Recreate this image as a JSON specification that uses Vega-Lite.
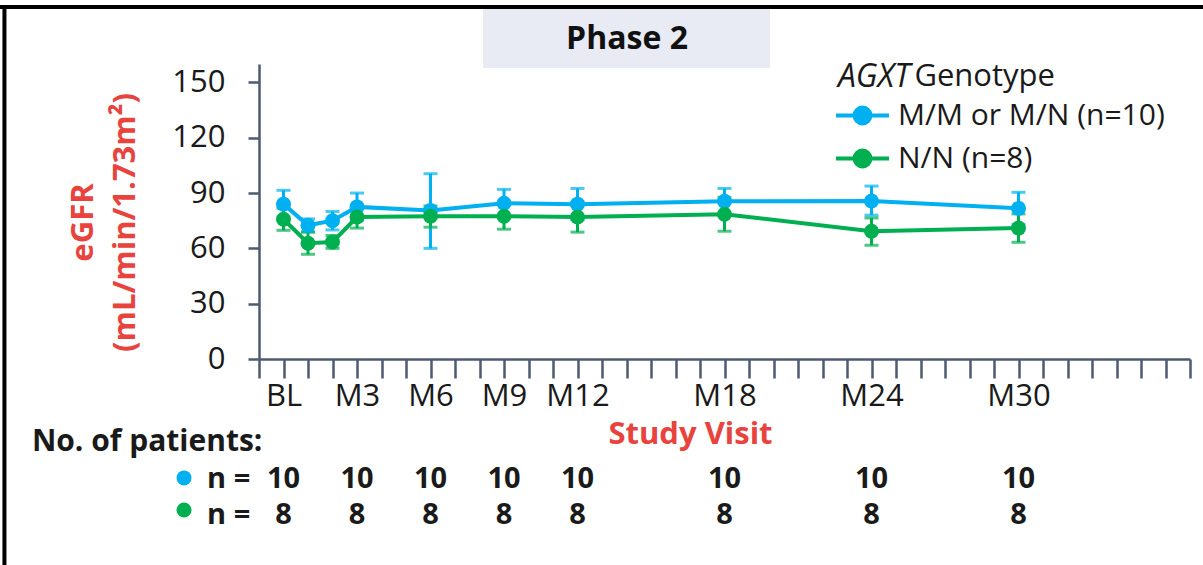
{
  "$schema": "https://vega.github.io/schema/vega-lite/v6.json",
  "width": 931,
  "height": 295,
  "autosize": {"type": "none"},
  "padding": {"left": 259, "top": 64, "right": 13, "bottom": 206},
  "background": "white",
  "config": {
    "view": {"stroke": null},
    "font": "Open Sans",
    "text": {"font": "Open Sans", "color": "#1a1a1a"},
    "axis": {"grid": false, "domainColor": "#4D5A70", "tickColor": "#4D5A70", "domainWidth": 2.5, "tickWidth": 2.5, "labelColor": "#1a1a1a", "labelFont": "Open Sans", "titleFont": "Open Sans"}
  },
  "datasets": {
    "egfr": [
      {"month": 0, "group": "M/M or M/N (n=10)", "mean": 84, "lo": 77, "hi": 91.5},
      {"month": 1, "group": "M/M or M/N (n=10)", "mean": 72.5, "lo": 69, "hi": 76},
      {"month": 2, "group": "M/M or M/N (n=10)", "mean": 75, "lo": 70, "hi": 80},
      {"month": 3, "group": "M/M or M/N (n=10)", "mean": 82.5, "lo": 75, "hi": 90},
      {"month": 6, "group": "M/M or M/N (n=10)", "mean": 80.5, "lo": 60, "hi": 100.5},
      {"month": 9, "group": "M/M or M/N (n=10)", "mean": 84.5, "lo": 77, "hi": 92},
      {"month": 12, "group": "M/M or M/N (n=10)", "mean": 84, "lo": 75.5, "hi": 92.5},
      {"month": 18, "group": "M/M or M/N (n=10)", "mean": 85.5, "lo": 78.5, "hi": 92.5},
      {"month": 24, "group": "M/M or M/N (n=10)", "mean": 85.7, "lo": 78, "hi": 93.8},
      {"month": 30, "group": "M/M or M/N (n=10)", "mean": 81.7, "lo": 73, "hi": 90.4},
      {"month": 0, "group": "N/N (n=8)", "mean": 75.8, "lo": 69.8, "hi": 81.8},
      {"month": 1, "group": "N/N (n=8)", "mean": 62.8, "lo": 56.8, "hi": 68.8},
      {"month": 2, "group": "N/N (n=8)", "mean": 63.5, "lo": 60, "hi": 67},
      {"month": 3, "group": "N/N (n=8)", "mean": 77, "lo": 71, "hi": 83},
      {"month": 6, "group": "N/N (n=8)", "mean": 77.4, "lo": 71.5, "hi": 83},
      {"month": 9, "group": "N/N (n=8)", "mean": 77.4, "lo": 70.4, "hi": 84.4},
      {"month": 12, "group": "N/N (n=8)", "mean": 77, "lo": 68.8, "hi": 85.2},
      {"month": 18, "group": "N/N (n=8)", "mean": 78.5, "lo": 69.3, "hi": 87.7},
      {"month": 24, "group": "N/N (n=8)", "mean": 69.3, "lo": 61.7, "hi": 76.5},
      {"month": 30, "group": "N/N (n=8)", "mean": 71, "lo": 63.3, "hi": 78.7}
    ],
    "patients": [
      {"month": 0, "group": "M/M or M/N (n=10)", "n": 10},
      {"month": 3, "group": "M/M or M/N (n=10)", "n": 10},
      {"month": 6, "group": "M/M or M/N (n=10)", "n": 10},
      {"month": 9, "group": "M/M or M/N (n=10)", "n": 10},
      {"month": 12, "group": "M/M or M/N (n=10)", "n": 10},
      {"month": 18, "group": "M/M or M/N (n=10)", "n": 10},
      {"month": 24, "group": "M/M or M/N (n=10)", "n": 10},
      {"month": 30, "group": "M/M or M/N (n=10)", "n": 10},
      {"month": 0, "group": "N/N (n=8)", "n": 8},
      {"month": 3, "group": "N/N (n=8)", "n": 8},
      {"month": 6, "group": "N/N (n=8)", "n": 8},
      {"month": 9, "group": "N/N (n=8)", "n": 8},
      {"month": 12, "group": "N/N (n=8)", "n": 8},
      {"month": 18, "group": "N/N (n=8)", "n": 8},
      {"month": 24, "group": "N/N (n=8)", "n": 8},
      {"month": 30, "group": "N/N (n=8)", "n": 8}
    ]
  },
  "layer": [
    {
      "data": {"values": [{"label": "Phase 2"}]},
      "mark": {"type": "rect", "color": "#E9EBF4"},
      "encoding": {
        "x": {"datum": 8.14, "type": "quantitative", "scale": {"domain": [-1, 37], "nice": false, "zero": false},
          "axis": {
            "values": [-1,0,1,2,3,4,5,6,7,8,9,10,11,12,13,14,15,16,17,18,19,20,21,22,23,24,25,26,27,28,29,30,31,32,33,34,35,36,37],
            "tickCount": 60,
            "labelExpr": "datum.value == 0 ? 'BL' : (indexof([3,6,9,12,18,24,30], datum.value) >= 0 ? 'M' + datum.value : '')",
            "labelFontSize": 31, "labelPadding": 3, "labelFlush": false, "labelOverlap": false, "labelBound": false,
            "tickSize": 19,
            "title": "Study Visit", "titleColor": "#E8433D", "titleFontSize": 31, "titleFontWeight": "bold",
            "titleX": 431, "titleY": 84, "titleAlign": "center", "titleBaseline": "alphabetic", "titleAnchor": null
          }},
        "x2": {"datum": 19.86},
        "y": {"datum": 189.8, "type": "quantitative", "scale": {"domain": [0, 160], "nice": false},
          "axis": {
            "values": [0, 30, 60, 90, 120, 150],
            "labelFontSize": 31, "labelPadding": 23, "tickSize": 11,
            "title": ["eGFR", "(mL/min/1.73m²)"], "titleColor": "#E8433D", "titleFontSize": 31, "titleFontWeight": "bold",
            "titleX": -176, "titleY": 158, "titleAngle": -90, "titleAlign": "center", "titleBaseline": "middle", "titleLineHeight": 42
          }},
        "y2": {"datum": 157.8}
      }
    },
    {
      "data": {"values": [{"label": "frame"}]},
      "mark": {"type": "rule", "color": "#000000", "strokeWidth": 4},
      "encoding": {
        "x": {"datum": -12, "type": "quantitative"},
        "x2": {"datum": 38},
        "y": {"datum": 190.9, "type": "quantitative"}
      }
    },
    {
      "data": {"values": [{"label": "frame"}]},
      "mark": {"type": "rule", "color": "#000000", "strokeWidth": 4},
      "encoding": {
        "x": {"datum": -11.39, "type": "quantitative"},
        "y": {"datum": 191.5, "type": "quantitative"},
        "y2": {"datum": -115}
      }
    },
    {
      "data": {"values": [{"label": "Phase 2"}]},
      "mark": {"type": "text", "fontSize": 32, "fontWeight": "bold", "align": "center", "baseline": "middle", "color": "#111111"},
      "encoding": {
        "x": {"datum": 14.02, "type": "quantitative"},
        "y": {"datum": 173.5, "type": "quantitative"},
        "text": {"field": "label"}
      }
    },
    {
      "data": {"name": "egfr"},
      "mark": {"type": "rule", "strokeWidth": 3},
      "encoding": {
        "x": {"field": "month", "type": "quantitative"},
        "y": {"field": "lo", "type": "quantitative"},
        "y2": {"field": "hi"},
        "color": {"field": "group", "type": "nominal", "scale": {"domain": ["M/M or M/N (n=10)", "N/N (n=8)"], "range": ["#00B0F0", "#00B050"]},
          "legend": {
            "orient": "none", "legendX": 588, "legendY": 36, "title": null, "padding": 0,
            "labelFontSize": 30, "labelColor": "#1a1a1a", "labelFont": "Open Sans", "labelLimit": 500,
            "symbolType": "M-2,0L2,0M0.6,0A0.6,0.6,0,1,1,-0.6,0A0.6,0.6,0,1,1,0.6,0Z",
            "symbolSize": 702, "symbolStrokeWidth": 4, "rowPadding": 10, "labelOffset": 20, "symbolOffset": 0,
            "encode": {"symbols": {"update": {"fill": {"scale": "color", "field": "value"}, "stroke": {"scale": "color", "field": "value"}, "opacity": {"value": 1}}}}
          }}
      }
    },
    {
      "data": {"name": "egfr"},
      "mark": {"type": "tick", "orient": "horizontal", "size": 14, "thickness": 3},
      "encoding": {
        "x": {"field": "month", "type": "quantitative"},
        "y": {"field": "lo", "type": "quantitative"},
        "color": {"field": "group", "type": "nominal"}
      }
    },
    {
      "data": {"name": "egfr"},
      "mark": {"type": "tick", "orient": "horizontal", "size": 14, "thickness": 3},
      "encoding": {
        "x": {"field": "month", "type": "quantitative"},
        "y": {"field": "hi", "type": "quantitative"},
        "color": {"field": "group", "type": "nominal"}
      }
    },
    {
      "data": {"name": "egfr"},
      "mark": {"type": "line", "strokeWidth": 4},
      "encoding": {
        "x": {"field": "month", "type": "quantitative"},
        "y": {"field": "mean", "type": "quantitative"},
        "color": {"field": "group", "type": "nominal"}
      }
    },
    {
      "data": {"name": "egfr"},
      "mark": {"type": "point", "filled": true, "size": 225, "opacity": 1},
      "encoding": {
        "x": {"field": "month", "type": "quantitative"},
        "y": {"field": "mean", "type": "quantitative"},
        "color": {"field": "group", "type": "nominal"}
      }
    },
    {
      "data": {"values": [{"label": "AGXT"}]},
      "mark": {"type": "text", "fontSize": 32, "fontStyle": "italic", "align": "left", "baseline": "middle"},
      "encoding": {
        "x": {"datum": 22.63, "type": "quantitative"},
        "y": {"datum": 153, "type": "quantitative"},
        "text": {"field": "label"}
      }
    },
    {
      "data": {"values": [{"label": "Genotype"}]},
      "mark": {"type": "text", "fontSize": 31, "align": "left", "baseline": "middle"},
      "encoding": {
        "x": {"datum": 25.75, "type": "quantitative"},
        "y": {"datum": 153, "type": "quantitative"},
        "text": {"field": "label"}
      }
    },
    {
      "data": {"values": [{"label": "No. of patients:"}]},
      "mark": {"type": "text", "fontSize": 30, "fontWeight": "bold", "align": "left", "baseline": "middle"},
      "encoding": {
        "x": {"datum": -10.27, "type": "quantitative"},
        "y": {"datum": -45, "type": "quantitative"},
        "text": {"field": "label"}
      }
    },
    {
      "data": {"values": [{"group": "M/M or M/N (n=10)"}]},
      "mark": {"type": "point", "filled": true, "size": 225, "opacity": 1},
      "encoding": {
        "x": {"datum": -4.06, "type": "quantitative"},
        "y": {"datum": -64.5, "type": "quantitative"},
        "color": {"field": "group", "type": "nominal"}
      }
    },
    {
      "data": {"values": [{"group": "N/N (n=8)"}]},
      "mark": {"type": "point", "filled": true, "size": 225, "opacity": 1},
      "encoding": {
        "x": {"datum": -4.06, "type": "quantitative"},
        "y": {"datum": -81.9, "type": "quantitative"},
        "color": {"field": "group", "type": "nominal"}
      }
    },
    {
      "data": {"values": [{"label": "n ="}]},
      "mark": {"type": "text", "fontSize": 29, "fontWeight": "bold", "align": "left", "baseline": "middle"},
      "encoding": {
        "x": {"datum": -3.12, "type": "quantitative"},
        "y": {"datum": -65.1, "type": "quantitative"},
        "text": {"field": "label"}
      }
    },
    {
      "data": {"values": [{"label": "n ="}]},
      "mark": {"type": "text", "fontSize": 29, "fontWeight": "bold", "align": "left", "baseline": "middle"},
      "encoding": {
        "x": {"datum": -3.12, "type": "quantitative"},
        "y": {"datum": -84.6, "type": "quantitative"},
        "text": {"field": "label"}
      }
    },
    {
      "data": {"name": "patients"},
      "transform": [{"filter": "datum.group == 'M/M or M/N (n=10)'"}],
      "mark": {"type": "text", "fontSize": 29, "fontWeight": "bold", "align": "center", "baseline": "middle"},
      "encoding": {
        "x": {"field": "month", "type": "quantitative"},
        "y": {"datum": -65.1, "type": "quantitative"},
        "text": {"field": "n", "type": "quantitative"}
      }
    },
    {
      "data": {"name": "patients"},
      "transform": [{"filter": "datum.group == 'N/N (n=8)'"}],
      "mark": {"type": "text", "fontSize": 29, "fontWeight": "bold", "align": "center", "baseline": "middle"},
      "encoding": {
        "x": {"field": "month", "type": "quantitative"},
        "y": {"datum": -84.6, "type": "quantitative"},
        "text": {"field": "n", "type": "quantitative"}
      }
    }
  ]
}
